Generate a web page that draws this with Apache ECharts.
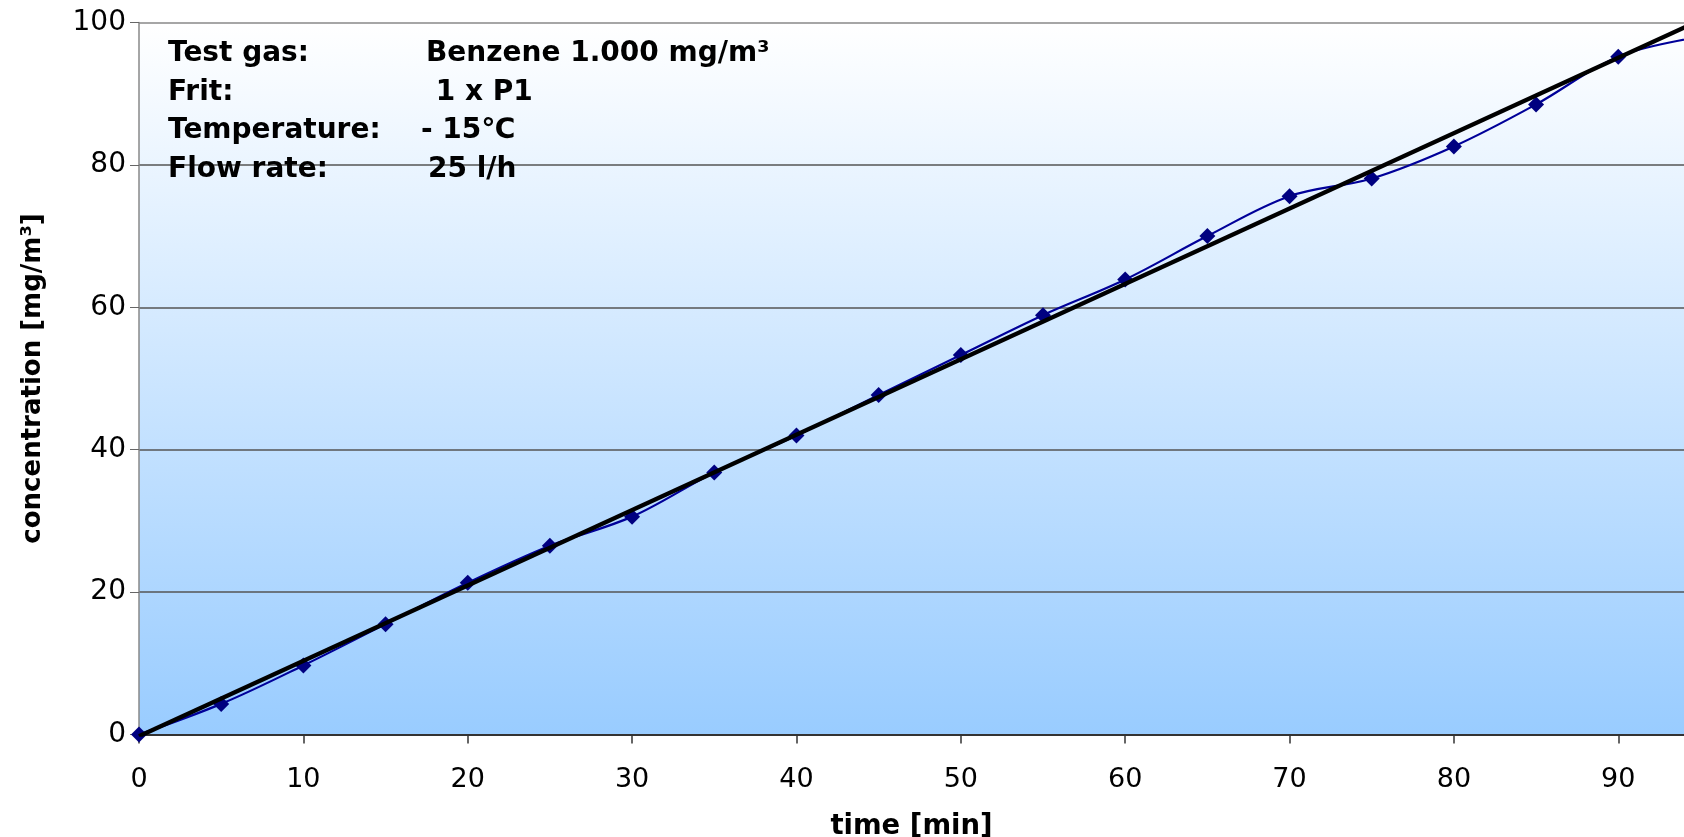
<!DOCTYPE html>
<html>
<head>
<meta charset="utf-8">
<script src="https://cdn.jsdelivr.net/npm/echarts@6/dist/echarts.min.js"></script>
<style>
html,body{margin:0;padding:0;background:#fff;}
#chart{width:1684px;height:837px;}
</style>
</head>
<body>
<div id="chart"></div>
<script>
// ---- data ----
var timeMin = [0, 5, 10, 15, 20, 25, 30, 35, 40, 45, 50, 55, 60, 65, 70, 75, 80, 85, 90, 95];
var concentration = [0, 4.3, 9.7, 15.5, 21.3, 26.5, 30.6, 36.8, 42.0, 47.7, 53.3, 58.9, 63.9, 70.0, 75.6, 78.1, 82.6, 88.5, 95.2, 98.0];
var yTicks = [0, 20, 40, 60, 80, 100];
var xTicks = [0, 10, 20, 30, 40, 50, 60, 70, 80, 90];
var annotLabels = ['Test gas:', 'Frit:', 'Temperature:', 'Flow rate:'];
var annotValues = ['Benzene 1.000 mg/m\u00b3', ' 1 x P1', '- 15\u2103', '25 l/h'];
var xAxisName = 'time [min]';
var yAxisName = 'concentration [mg/m\u00b3]';

// linear trend line (least squares over measured points 0..90)
var n = 19;
var sx = 0, sy = 0, sxx = 0, sxy = 0;
for (var i = 0; i < n; i++) {
  sx += timeMin[i]; sy += concentration[i];
  sxx += timeMin[i] * timeMin[i]; sxy += timeMin[i] * concentration[i];
}
var slope = (n * sxy - sx * sy) / (n * sxx - sx * sx);
var intercept = (sy - slope * sx) / n;
var trendX = [0, 100];
var trendData = trendX.map(function (x) { return [x, slope * x + intercept]; });

var measData = timeMin.map(function (x, i) { return [x, concentration[i]]; });

var chart = echarts.init(document.getElementById('chart'));
var FONT = '"DejaVu Sans", Verdana, sans-serif';

var graphics = [];
var lineY = [56, 94.5, 133, 172];
var valX = [426, 426, 421, 428];
for (var k = 0; k < annotLabels.length; k++) {
  graphics.push({
    type: 'text', left: 168, top: lineY[k] - 16, z: 100,
    style: { text: annotLabels[k], font: 'bold 28px ' + FONT, fill: '#000' }
  });
  graphics.push({
    type: 'text', left: valX[k], top: lineY[k] - 16, z: 100,
    style: { text: annotValues[k], font: 'bold 28px ' + FONT, fill: '#000' }
  });
}

chart.setOption({
  animation: false,
  backgroundColor: '#ffffff',
  grid: {
    left: 139, right: 0, top: 22.5, bottom: 102.5,
    outerBoundsMode: 'none', containLabel: false,
    show: true, borderWidth: 0,
    backgroundColor: {
      type: 'linear', x: 0, y: 0, x2: 0, y2: 1,
      colorStops: [{ offset: 0, color: '#ffffff' }, { offset: 1, color: '#99CCFF' }]
    }
  },
  xAxis: {
    type: 'value', min: 0, max: 94, interval: 10,
    name: xAxisName, nameLocation: 'middle', nameGap: 78,
    nameTextStyle: { fontFamily: FONT, fontWeight: 'bold', fontSize: 27.5, color: '#000' },
    axisLine: { show: true, lineStyle: { color: '#333', width: 2 } },
    axisTick: { show: true, length: 9, lineStyle: { color: '#333', width: 1.5 } },
    axisLabel: {
      margin: 32, fontFamily: FONT, fontSize: 27, color: '#000', showMaxLabel: false,
      formatter: function (v) { return xTicks.indexOf(v) >= 0 ? String(v) : ''; }
    },
    splitLine: { show: false }
  },
  yAxis: {
    type: 'value', min: 0, max: 100, interval: 20,
    name: yAxisName, nameLocation: 'middle', nameGap: 93,
    nameTextStyle: { fontFamily: FONT, fontWeight: 'bold', fontSize: 26, color: '#000' },
    axisLine: { show: true, lineStyle: { color: '#888', width: 1.5 } },
    axisTick: { show: true, length: 9, lineStyle: { color: '#666', width: 1 } },
    axisLabel: {
      margin: 13, fontFamily: FONT, fontSize: 28, color: '#000',
      formatter: function (v) { return yTicks.indexOf(v) >= 0 ? String(v) : ''; }
    },
    splitLine: { show: true, lineStyle: { color: ['#555', '#555', '#555', '#555', '#555', '#888'], width: 1.5 } }
  },
  graphic: graphics,
  series: [
    {
      type: 'line', name: 'measured', data: measData, smooth: 0.35,
      symbol: 'diamond', symbolSize: 16,
      itemStyle: { color: '#000080' },
      lineStyle: { color: '#000099', width: 2.2 },
      z: 3, clip: true
    },
    {
      type: 'line', name: 'trend', data: trendData, showSymbol: false, symbol: 'none',
      lineStyle: { color: '#000', width: 4.3 },
      z: 4, clip: true
    }
  ]
});
</script>
</body>
</html>
